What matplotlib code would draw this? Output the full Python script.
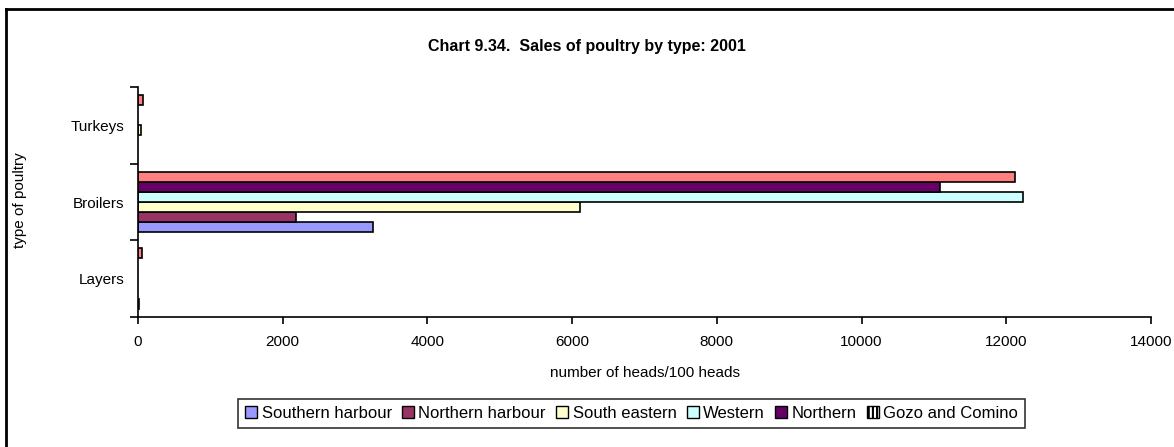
import numpy as np
import matplotlib.pyplot as plt
from matplotlib.patches import Patch
from matplotlib.lines import Line2D

plt.rcParams['font.family'] = ['Liberation Sans', 'DejaVu Sans']
plt.rcParams['hatch.linewidth'] = 1.5

categories = ["Layers", "Broilers", "Turkeys"]
regions = ["Southern harbour", "Northern harbour", "South eastern", "Western", "Northern", "Gozo and Comino"]
southern_harbour = [10, 3250, 0]
northern_harbour = [0, 2190, 0]
south_eastern = [0, 6110, 40]
western = [0, 12230, 0]
northern = [0, 11090, 0]
gozo_comino = [55, 12120, 65]
series = [southern_harbour, northern_harbour, south_eastern, western, northern, gozo_comino]
colors = ["#9999FF", "#993366", "#FFFFCC", "#CCFFFF", "#660066", "#FF8080"]

fig = plt.figure(figsize=(11.74, 4.47), dpi=100)
ax = fig.add_axes([138/1174, 1 - 317/447, (1151-138)/1174, (317-87)/447])

h = 0.132
y = np.arange(len(categories))
for i, vals in enumerate(series):
    vals = np.array(vals, dtype=float)
    keep = vals > 0
    ax.barh(y[keep] + (i - 2.5) * h, vals[keep], height=h, color=colors[i],
            edgecolor='black', linewidth=1.2)

ax.set_xlim(0, 14000)
ax.set_ylim(-0.5, 2.5)
ax.set_xticks(np.arange(0, 14001, 2000))
ax.set_yticks([-0.5, 0.5, 1.5, 2.5])
ax.set_yticklabels([])
ax.set_yticks(y, minor=True)
ax.set_yticklabels(categories, minor=True)
ax.tick_params(axis='y', which='minor', length=0, pad=10, labelsize=11)
ax.tick_params(axis='y', which='major', direction='out', length=6, width=1.2)
ax.tick_params(axis='x', direction='out', length=5, width=1.2, labelsize=11, pad=8)
for s in ['top', 'right']:
    ax.spines[s].set_visible(False)
for s in ['left', 'bottom']:
    ax.spines[s].set_linewidth(1.2)

ax.set_xlabel("number of heads/100 heads", fontsize=11, labelpad=12)
fig.text(20/1174, 1 - 200/447, "type of poultry", rotation=90, fontsize=11, ha='center', va='center')
fig.text(0.5, 1 - 46/447, "Chart 9.34.  Sales of poultry by type: 2001", fontsize=11.5,
         fontweight='bold', ha='center', va='center')

handles = [Patch(facecolor=c, edgecolor='black', linewidth=1) for c in colors[:5]]
handles.append(Patch(facecolor='white', edgecolor='black', hatch='||||', linewidth=1))
leg = fig.legend(handles, regions, loc='center', bbox_to_anchor=(631.5/1174, 1 - 413.5/447),
                 ncol=6, fontsize=12, frameon=True, fancybox=False, edgecolor='black',
                 handlelength=0.75, handleheight=0.75, handletextpad=0.25, columnspacing=0.6,
                 borderpad=0.4)
leg.get_frame().set_linewidth(1.2)

# outer frame (top and left only visible)
fig.add_artist(Line2D([6/1174, 6/1174], [0, 1 - 9/447], color='black', lw=2, transform=fig.transFigure))
fig.add_artist(Line2D([6/1174, 1], [1 - 9/447, 1 - 9/447], color='black', lw=2, transform=fig.transFigure))

fig.savefig("out.png", dpi=100)
